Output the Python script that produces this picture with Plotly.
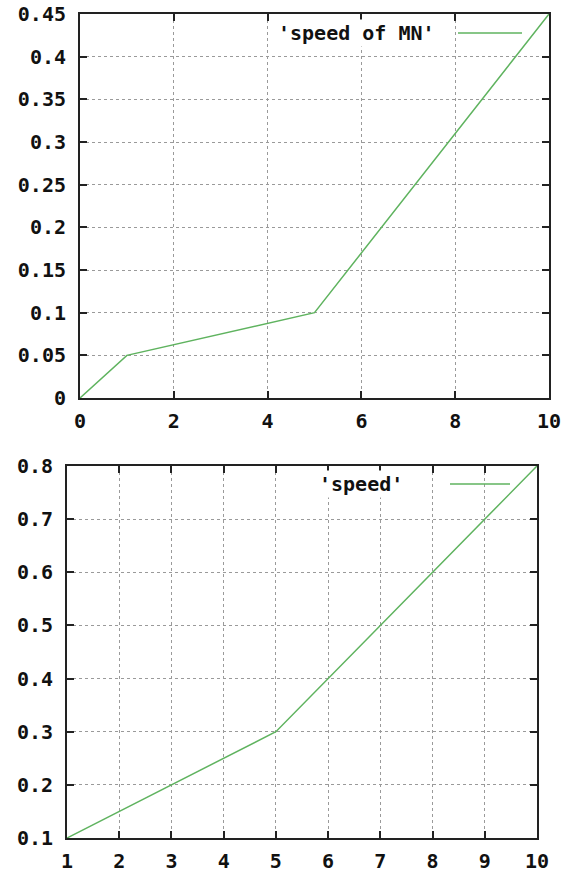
import plotly.graph_objects as go

# Data
top_x = [0, 1, 5, 10]
top_y = [0, 0.05, 0.1, 0.45]
top_name = "'speed of MN'"
top_xticks = [0, 2, 4, 6, 8, 10]
top_yticks = [0, 0.05, 0.1, 0.15, 0.2, 0.25, 0.3, 0.35, 0.4, 0.45]
top_yticklabels = ["0", "0.05", "0.1", "0.15", "0.2", "0.25", "0.3", "0.35", "0.4", "0.45"]

bot_x = [1, 3, 5, 7, 10]
bot_y = [0.1, 0.2, 0.3, 0.5, 0.8]
bot_name = "'speed'"
bot_xticks = [1, 2, 3, 4, 5, 6, 7, 8, 9, 10]
bot_yticks = [0.1, 0.2, 0.3, 0.4, 0.5, 0.6, 0.7, 0.8]
bot_yticklabels = ["0.1", "0.2", "0.3", "0.4", "0.5", "0.6", "0.7", "0.8"]

W, H = 569, 874
GREEN = "#5fb35f"
FONT = dict(family="DejaVu Sans Mono", size=20, color="#111")


def bold(labels):
    return ["<b>" + str(s) + "</b>" for s in labels]


def px_x(p):
    return p / W


def px_y(p):
    return 1 - p / H


fig = go.Figure()
fig.add_trace(go.Scatter(x=top_x, y=top_y, mode="lines", name=top_name,
                         line=dict(color=GREEN, width=1.5), xaxis="x", yaxis="y"))
fig.add_trace(go.Scatter(x=bot_x, y=bot_y, mode="lines", name=bot_name,
                         line=dict(color=GREEN, width=1.5), xaxis="x2", yaxis="y2"))

axis_common = dict(showline=True, linecolor="#222", linewidth=2, mirror="ticks",
                   ticks="inside", ticklen=7, tickwidth=2, tickcolor="#222",
                   showgrid=True, gridcolor="#9a9a9a", griddash="dot", gridwidth=1,
                   zeroline=False, tickfont=FONT, fixedrange=True, automargin=False,
                   ticklabeloverflow="allow")

fig.update_layout(
    width=W, height=H,
    margin=dict(l=0, r=0, t=0, b=0, pad=0),
    paper_bgcolor="white", plot_bgcolor="white",
    showlegend=False,
    font=FONT,
    xaxis=dict(domain=[px_x(80), px_x(549)], range=[0, 10], anchor="y",
               tickvals=top_xticks, ticktext=bold(top_xticks),
               ticklabelstandoff=4, **axis_common),
    yaxis=dict(domain=[px_y(398), px_y(14)], range=[0, 0.45], anchor="x",
               tickvals=top_yticks, ticktext=bold(top_yticklabels),
               ticklabelstandoff=8, **axis_common),
    xaxis2=dict(domain=[px_x(67), px_x(537)], range=[1, 10], anchor="y2",
                tickvals=bot_xticks, ticktext=bold(bot_xticks),
                ticklabelstandoff=4, **axis_common),
    yaxis2=dict(domain=[px_y(838), px_y(466)], range=[0.1, 0.8], anchor="x2",
                tickvals=bot_yticks, ticktext=bold(bot_yticklabels),
                ticklabelstandoff=8, **axis_common),
)

# gnuplot-style keys: text on the left, line sample on the right
fig.add_annotation(xref="paper", yref="paper", x=px_x(437), y=px_y(33),
                   text="<b>" + top_name + "</b>", showarrow=False,
                   xanchor="right", yanchor="middle", font=FONT, bgcolor="white")
fig.add_shape(type="line", xref="paper", yref="paper",
              x0=px_x(458), x1=px_x(522), y0=px_y(33), y1=px_y(33),
              line=dict(color=GREEN, width=1.5))
fig.add_annotation(xref="paper", yref="paper", x=px_x(405), y=px_y(484),
                   text="<b>" + bot_name + "</b>", showarrow=False,
                   xanchor="right", yanchor="middle", font=FONT, bgcolor="white")
fig.add_shape(type="line", xref="paper", yref="paper",
              x0=px_x(450), x1=px_x(510), y0=px_y(484), y1=px_y(484),
              line=dict(color=GREEN, width=1.5))

fig.write_html(
    "out.html",
    config={"displayModeBar": False},
    post_script="document.body.style.margin='0';document.body.style.overflow='hidden';",
)
